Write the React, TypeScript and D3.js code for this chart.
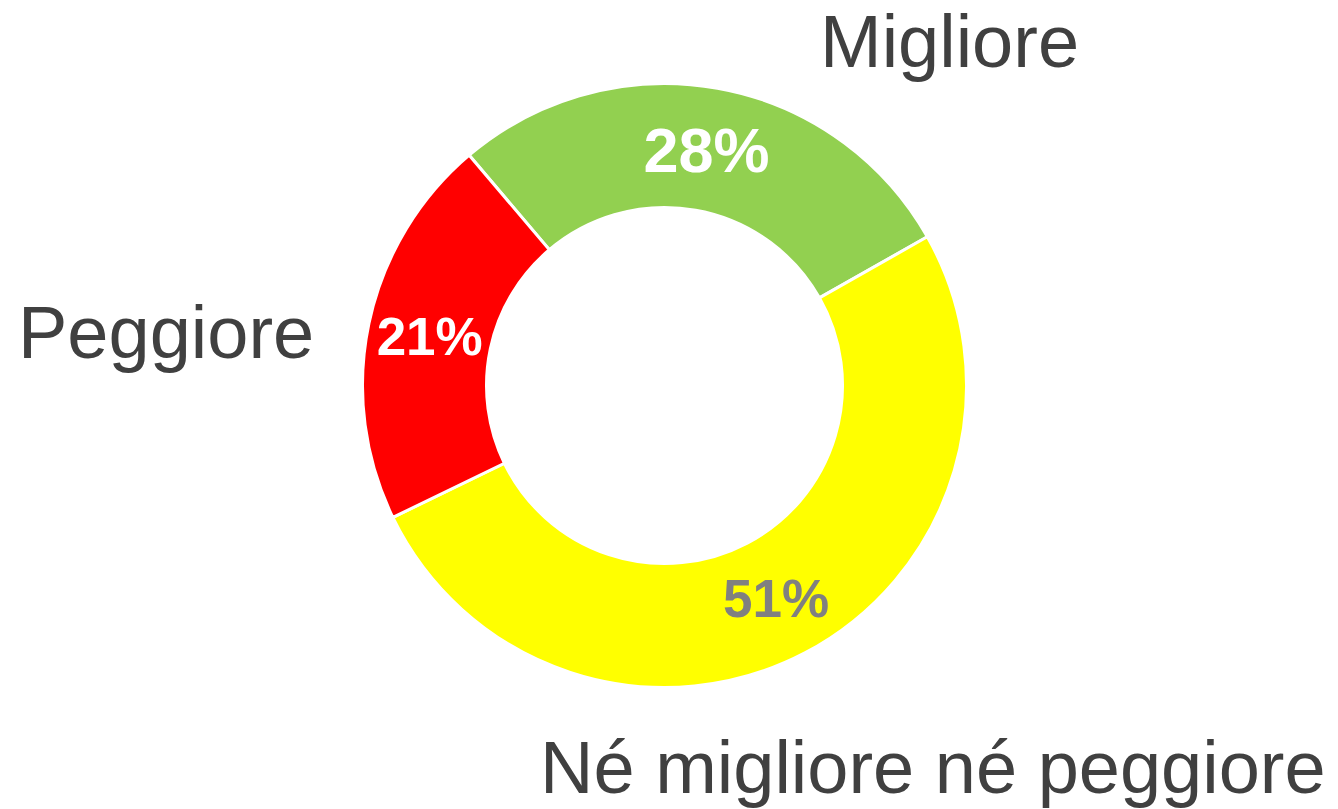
import React from "react";
import * as d3 from "d3";

const categories = ["Migliore", "Né migliore né peggiore", "Peggiore"];
const values = [28, 51, 21];
const colors = ["#92D050", "#FFFF00", "#FF0000"];
const valueTextColors = ["#FFFFFF", "#808080", "#FFFFFF"];
const valueFontSizes = [63, 53, 53];

const W = 1338;
const H = 809;
const cx = 664.5;
const cy = 385.5;
const outerR = 302;
const innerR = 178;
const startDeg = -40.3;

const catLabelPos: [number, number][] = [
  [820, 67],
  [540, 793],
  [18, 358],
];

export default function App() {
  const pie = d3
    .pie<number>()
    .sort(null)
    .value((d) => d)
    .startAngle((startDeg * Math.PI) / 180)
    .endAngle((startDeg * Math.PI) / 180 + 2 * Math.PI);
  const arcs = pie(values);
  const arc = d3.arc<d3.PieArcDatum<number>>().innerRadius(innerR).outerRadius(outerR);

  return (
    <svg
      width={W}
      height={H}
      style={{ position: "absolute", left: 0, top: 0, display: "block", background: "#fff" }}
      fontFamily="'Liberation Sans', Arial, sans-serif"
    >
      <g transform={`translate(${cx},${cy})`}>
        {arcs.map((a, i) => (
          <path key={i} d={arc(a) || ""} fill={colors[i]} stroke="#fff" strokeWidth={3} strokeLinejoin="miter" />
        ))}
        {arcs.map((a, i) => {
          const [x, y] = arc.centroid(a);
          return (
            <text
              key={"v" + i}
              x={x}
              y={y}
              dy="0.358em"
              textAnchor="middle"
              fontWeight="bold"
              fontSize={valueFontSizes[i]}
              fill={valueTextColors[i]}
            >
              {values[i]}%
            </text>
          );
        })}
      </g>
      {categories.map((c, i) => (
        <text key={"c" + i} x={catLabelPos[i][0]} y={catLabelPos[i][1]} fontSize={74} fill="#404040">
          {c}
        </text>
      ))}
    </svg>
  );
}
